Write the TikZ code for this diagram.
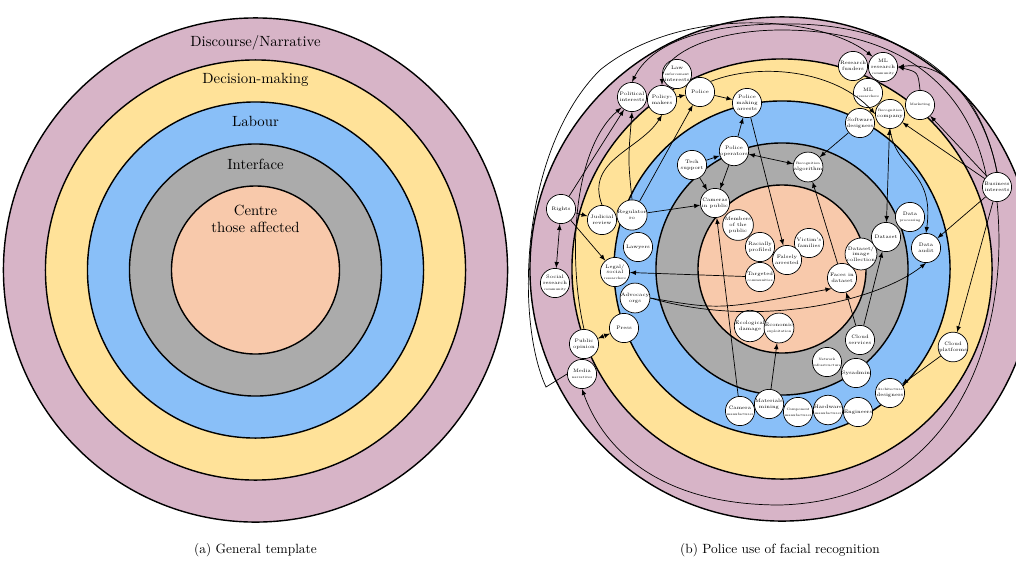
\documentclass[tikz,border=0pt]{standalone}
\usepackage{tikz}

\definecolor{ringA}{RGB}{215,180,199}
\definecolor{ringB}{RGB}{255,226,153}
\definecolor{ringC}{RGB}{137,191,248}
\definecolor{ringD}{RGB}{171,171,171}
\definecolor{ringE}{RGB}{248,201,171}

\newcommand{\sm}[1]{{\fontsize{2.4}{2.8}\selectfont #1}}

\tikzset{
  actor/.style={circle, draw, fill=white, line width=0.5pt, minimum size=0.73cm,
    inner sep=0pt, align=center, font=\fontsize{3.5}{4.1}\selectfont},
  ringlabel/.style={font=\fontsize{10.5}{12}\selectfont, align=center},
  link/.style={->, >=latex, line width=0.5pt},
  dlink/.style={<->, >=latex, line width=0.5pt}
}

\begin{document}
\begin{tikzpicture}[x=0.025cm, y=-0.025cm]
    \useasboundingbox (0,0) rectangle (1016,560);

    % Ringe
    \foreach \r/\c in {6.3/ringA, 5.25/ringB, 4.2/ringC, 3.15/ringD, 2.1/ringE} {
        \draw[line width=1pt, fill=\c] (255.5,270) circle[radius=\r*1cm];
        \draw[line width=1pt, fill=\c] (782,269) circle[radius=\r*1cm];
    }

    % (a) Vorlage
    \node[ringlabel] (tDis) at (255.5,43) {Discourse/Narrative};
    \node[ringlabel] (tDec) at (255.5,80) {Decision-making};
    \node[ringlabel] (tLab) at (255.5,121) {Labour};
    \node[ringlabel] (tInt) at (255.5,164) {Interface};
    \node[ringlabel] (tCen) at (255.5,219) {Centre\\those affected};

    % (b) Akteure
    \node[actor] (pol) at (632,97) {Political\\interests};
    \node[actor] (pmk) at (662,100) {Policy-\\makers};
    \node[actor] (lei) at (677,74) {Law\\\sm{enforcement}\\interests};
    \node[actor] (plc) at (700,92) {Police};
    \node[actor] (pma) at (747,103) {Police\\making\\arrests};
    \node[actor] (rfu) at (853,66) {Research\\funders};
    \node[actor] (mlc) at (883,67) {ML\\research\\\sm{community}};
    \node[actor] (mlr) at (868,93) {ML\\\sm{researchers}};
    \node[actor] (rco) at (890,114) {\sm{Recognition}\\company};
    \node[actor] (mkt) at (920,105) {\sm{Marketing}};
    \node[actor] (swd) at (860,123) {Software\\designers};
    \node[actor] (pop) at (734,151) {Police\\operators};
    \node[actor] (tsu) at (692,165) {Tech\\support};
    \node[actor] (ral) at (808,167) {\sm{Recognition}\\algorithm};
    \node[actor] (rgt) at (561,209) {Rights};
    \node[actor] (jrv) at (602,220) {Judicial\\review};
    \node[actor] (reg) at (632,215) {Regulator\\ro};
    \node[actor] (law) at (638,247) {Lawyers};
    \node[actor] (cam) at (715,203) {Cameras\\in public};
    \node[actor] (mem) at (738,225) {Members\\of the\\public};
    \node[actor] (rac) at (760,247) {Racially\\profiled};
    \node[actor] (vic) at (809,243) {Victim's\\families};
    \node[actor] (fal) at (787,260) {Falsely\\arrested};
    \node[actor] (tgt) at (760,277) {Targeted\\\sm{communities}};
    \node[actor] (fac) at (842,278) {Faces in\\dataset};
    \node[actor] (dic) at (861,254) {Dataset/\\image\\collection};
    \node[actor] (dst) at (886,237) {Dataset};
    \node[actor] (dpr) at (910,217) {Data\\\sm{processing}};
    \node[actor] (dau) at (926,248) {Data\\audit};
    \node[actor] (biz) at (997,187) {Business\\interests};
    \node[actor] (srs) at (555,283) {Social\\research\\\sm{community}};
    \node[actor] (lsr) at (615,272) {Legal/\\social\\\sm{researchers}};
    \node[actor] (adv) at (635,298) {Advocacy\\orgs};
    \node[actor] (prs) at (624,328) {Press};
    \node[actor] (pub) at (584,344) {Public\\opinion};
    \node[actor] (med) at (582,374) {Media\\\sm{narratives}};
    \node[actor] (eco) at (750,326) {Ecological\\damage};
    \node[actor] (ecx) at (779,328) {Economic\\\sm{exploitation}};
    \node[actor] (cls) at (860,340) {Cloud\\services};
    \node[actor] (clp) at (953,347) {Cloud\\platforms};
    \node[actor] (net) at (827,362) {\sm{Network}\\\sm{infrastructure}};
    \node[actor] (sys) at (856,373) {Sysadmin};
    \node[actor] (cmf) at (740,411) {Camera\\\sm{manufacturer}};
    \node[actor] (mat) at (769,404) {Materials\\mining};
    \node[actor] (cpm) at (798,412) {\sm{Component}\\\sm{manufacturer}};
    \node[actor] (hwm) at (828,410) {Hardware\\\sm{manufacturer}};
    \node[actor] (eng) at (858,412) {Engineers};
    \node[actor] (arc) at (890,393) {\sm{Architecture}\\designers};

    % Verbindungen
    \draw[dlink] (rgt) -- (srs);
    \draw[link] (rgt) -- (jrv);
    \draw[link] (rgt) -- (pol);
    \draw[link] (rgt) -- (lsr);
    \draw[link] (reg.north) .. controls (628,160) .. (pol.south);
    \draw[link] (jrv.north) .. controls (585,160) and (640,150) .. (pmk.south);
    \draw[link] (pmk) -- (plc);
    \draw[link] (reg) -- (plc);
    \draw[link] (reg) -- (cam);
    \draw[link] (plc) -- (pma);
    \draw[link] (pop) -- (pma);
    \draw[link] (tsu) -- (pop);
    \draw[link] (tsu) -- (cam);
    \draw[link] (pop) -- (cam);
    \draw[dlink] (pop) -- (ral);
    \draw[link] (swd) -- (ral);
    \draw[link] (pma) -- (fal);
    \draw[link] (fac) -- (ral);
    \draw[link] (tgt) -- (lsr);
    \draw[link] (adv.east) .. controls (720,310) .. (fac.south west);
    \draw[link] (adv.east) .. controls (760,330) and (880,300) .. (dau.south);
    \draw[dlink] (pub) -- (prs);
    \draw[link] (cmf) -- (cam);
    \draw[link] (mat) -- (ecx);
    \draw[link] (cls) -- (dst);
    \draw[link] (cls) -- (fac);
    \draw[link] (clp) -- (arc);
    \draw[link] (biz) -- (clp);
    \draw[link] (biz) -- (dau);
    \draw[link] (biz) -- (rco);
    \draw[link] (biz) -- (mkt);
    \draw[dlink] (rco) -- (dst);
    \draw[link] (rco.south) .. controls (895,170) and (935,170) .. (dau.north);
    \draw[link] (plc.north east) .. controls (760,62) and (835,70) .. (rco.west);
    \draw[link] (pub.north) .. controls (568,260) and (572,150) .. (pol.south west);
    \draw[link] (mkt.north) .. controls (918,72) .. (mlc.east);
    \draw[link] (biz.north) .. controls (985,110) and (950,60) .. (mlc.east);
    \draw[link] (biz.north) .. controls (975,60) and (880,22) .. (782,24)
        .. controls (700,24) and (650,45) .. (pol.north);
    \draw[link] (biz.north west) .. controls (965,70) and (880,30) .. (782,30)
        .. controls (710,30) and (662,55) .. (pmk.north);
    \draw[link] (biz.south) .. controls (1010,330) and (960,500) .. (780,505)
        .. controls (650,505) and (600,440) .. (med.south);
    \draw[link] (med.west) -- (546,387) .. controls (515,320) and (520,150) .. (600,70)
        .. controls (680,5) and (820,15) .. (mlc.north west);

    % Unterschriften
    \node[font=\fontsize{9.5}{11}\selectfont] (capA) at (255.5,550) {(a) General template};
    \node[font=\fontsize{9.5}{11}\selectfont] (capB) at (780,550) {(b) Police use of facial recognition};
\end{tikzpicture}
\end{document}
